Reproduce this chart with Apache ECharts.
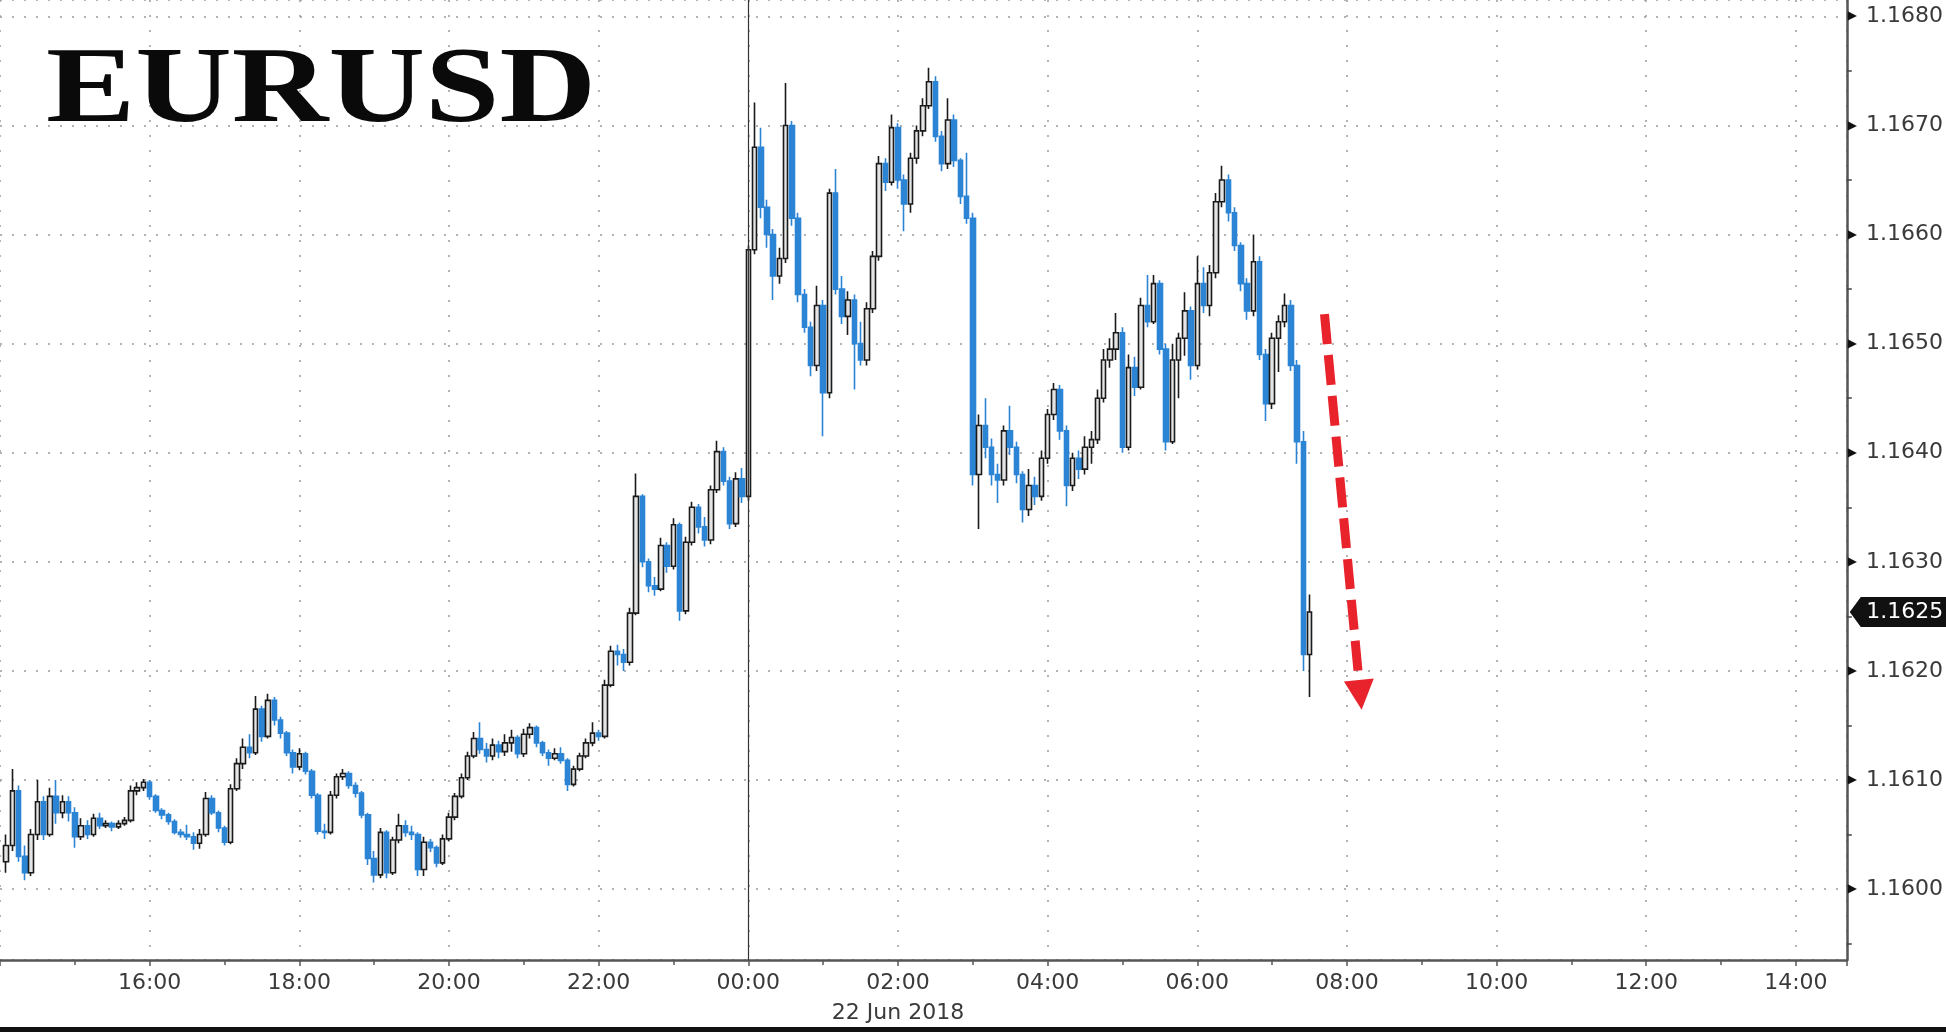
<!DOCTYPE html>
<html><head><meta charset="utf-8">
<script src="https://cdn.jsdelivr.net/npm/echarts@6/dist/echarts.min.js"></script>
<style>html,body{margin:0;padding:0;background:#fff;overflow:hidden}#c{width:1946px;height:1032px}</style>
</head><body><div id="c"></div>
<script>
const title = 'EURUSD';
const dateLabel = '22 Jun 2018';
const dateLabelAt = 26; // 02:00 on 22 Jun (hours from 21 Jun 00:00)

const times = [
'14:05','14:10','14:15','14:20','14:25','14:30','14:35','14:40','14:45','14:50','14:55',
'15:00','15:05','15:10','15:15','15:20','15:25','15:30','15:35','15:40','15:45','15:50','15:55',
'16:00','16:05','16:10','16:15','16:20','16:25','16:30','16:35','16:40','16:45','16:50','16:55',
'17:00','17:05','17:10','17:15','17:20','17:25','17:30','17:35','17:40','17:45','17:50','17:55',
'18:00','18:05','18:10','18:15','18:20','18:25','18:30','18:35','18:40','18:45','18:50','18:55',
'19:00','19:05','19:10','19:15','19:20','19:25','19:30','19:35','19:40','19:45','19:50','19:55',
'20:00','20:05','20:10','20:15','20:20','20:25','20:30','20:35','20:40','20:45','20:50','20:55',
'21:00','21:05','21:10','21:15','21:20','21:25','21:30','21:35','21:40','21:45','21:50','21:55',
'22:00','22:05','22:10','22:15','22:20','22:25','22:30','22:35','22:40','22:45','22:50','22:55',
'23:00','23:05','23:10','23:15','23:20','23:25','23:30','23:35','23:40','23:45','23:50','23:55',
'00:00','00:05','00:10','00:15','00:20','00:25','00:30','00:35','00:40','00:45','00:50','00:55',
'01:00','01:05','01:10','01:15','01:20','01:25','01:30','01:35','01:40','01:45','01:50','01:55',
'02:00','02:05','02:10','02:15','02:20','02:25','02:30','02:35','02:40','02:45','02:50','02:55',
'03:00','03:05','03:10','03:15','03:20','03:25','03:30','03:35','03:40','03:45','03:50','03:55',
'04:00','04:05','04:10','04:15','04:20','04:25','04:30','04:35','04:40','04:45','04:50','04:55',
'05:00','05:05','05:10','05:15','05:20','05:25','05:30','05:35','05:40','05:45','05:50','05:55',
'06:00','06:05','06:10','06:15','06:20','06:25','06:30','06:35','06:40','06:45','06:50','06:55',
'07:00','07:05','07:10','07:15','07:20','07:25','07:30'
];

const opens = [
1.16025,1.16040,1.16090,1.16030,1.16015,1.16050,1.16080,1.16050,1.16085,1.16070,1.16080,
1.16070,1.16048,1.16058,1.16050,1.16065,1.16058,1.16060,1.16057,1.16060,1.16063,1.16090,1.16093,
1.16098,1.16085,1.16072,1.16068,1.16062,1.16052,1.16050,1.16048,1.16042,1.16050,1.16083,1.16070,
1.16056,1.16043,1.16092,1.16115,1.16130,1.16125,1.16165,1.16140,1.16173,1.16155,1.16143,1.16125,
1.16112,1.16124,1.16108,1.16086,1.16053,1.16052,1.16086,1.16103,1.16106,1.16095,1.16088,1.16068,
1.16028,1.16013,1.16052,1.16015,1.16045,1.16058,1.16052,1.16050,1.16018,1.16043,1.16038,1.16024,
1.16046,1.16066,1.16085,1.16102,1.16122,1.16138,1.16128,1.16122,1.16132,1.16126,1.16134,1.16139,
1.16124,1.16142,1.16148,1.16134,1.16125,1.16120,1.16124,1.16118,1.16096,1.16110,1.16122,1.16134,
1.16143,1.16140,1.16187,1.16218,1.16215,1.16208,1.16253,1.16360,1.16300,1.16278,1.16275,1.16315,
1.16296,1.16334,1.16255,1.16318,1.16350,1.16332,1.16320,1.16366,1.16401,1.16374,1.16335,1.16376,
1.16360,1.16586,1.16680,1.16625,1.16600,1.16562,1.16578,1.16700,1.16615,1.16545,1.16515,1.16480,
1.16535,1.16455,1.16638,1.16550,1.16525,1.16540,1.16500,1.16485,1.16532,1.16580,1.16665,1.16648,
1.16698,1.16650,1.16628,1.16670,1.16695,1.16718,1.16740,1.16690,1.16665,1.16705,1.16668,1.16635,
1.16615,1.16380,1.16425,1.16405,1.16380,1.16375,1.16420,1.16405,1.16380,1.16348,1.16370,1.16360,
1.16395,1.16435,1.16458,1.16420,1.16370,1.16395,1.16385,1.16405,1.16412,1.16450,1.16485,1.16495,
1.16510,1.16405,1.16478,1.16460,1.16535,1.16520,1.16555,1.16495,1.16410,1.16485,1.16505,1.16530,
1.16480,1.16555,1.16535,1.16565,1.16630,1.16650,1.16620,1.16590,1.16555,1.16530,1.16575,1.16490,
1.16445,1.16505,1.16520,1.16535,1.16480,1.16410,1.16215
];

const closes = [
1.16040,1.16090,1.16030,1.16015,1.16050,1.16080,1.16050,1.16085,1.16070,1.16080,1.16070,
1.16048,1.16058,1.16050,1.16065,1.16058,1.16060,1.16057,1.16060,1.16063,1.16090,1.16093,1.16098,
1.16085,1.16072,1.16068,1.16062,1.16052,1.16050,1.16048,1.16042,1.16050,1.16083,1.16070,1.16056,
1.16043,1.16092,1.16115,1.16130,1.16125,1.16165,1.16140,1.16173,1.16155,1.16143,1.16125,1.16112,
1.16124,1.16108,1.16086,1.16053,1.16052,1.16086,1.16103,1.16106,1.16095,1.16088,1.16068,1.16028,
1.16013,1.16052,1.16015,1.16045,1.16058,1.16052,1.16050,1.16018,1.16043,1.16038,1.16024,1.16046,
1.16066,1.16085,1.16102,1.16122,1.16138,1.16128,1.16122,1.16132,1.16126,1.16134,1.16139,1.16124,
1.16142,1.16148,1.16134,1.16125,1.16120,1.16124,1.16118,1.16096,1.16110,1.16122,1.16134,1.16143,
1.16140,1.16187,1.16218,1.16215,1.16208,1.16253,1.16360,1.16300,1.16278,1.16275,1.16315,1.16296,
1.16334,1.16255,1.16318,1.16350,1.16332,1.16320,1.16366,1.16401,1.16374,1.16335,1.16376,1.16360,
1.16586,1.16680,1.16625,1.16600,1.16562,1.16578,1.16700,1.16615,1.16545,1.16515,1.16480,1.16535,
1.16455,1.16638,1.16550,1.16525,1.16540,1.16500,1.16485,1.16532,1.16580,1.16665,1.16648,1.16698,
1.16650,1.16628,1.16670,1.16695,1.16718,1.16740,1.16690,1.16665,1.16705,1.16668,1.16635,1.16615,
1.16380,1.16425,1.16405,1.16380,1.16375,1.16420,1.16405,1.16380,1.16348,1.16370,1.16360,1.16395,
1.16435,1.16458,1.16420,1.16370,1.16395,1.16385,1.16405,1.16412,1.16450,1.16485,1.16495,1.16510,
1.16405,1.16478,1.16460,1.16535,1.16520,1.16555,1.16495,1.16410,1.16485,1.16505,1.16530,1.16480,
1.16555,1.16535,1.16565,1.16630,1.16650,1.16620,1.16590,1.16555,1.16530,1.16575,1.16490,1.16445,
1.16505,1.16520,1.16535,1.16480,1.16410,1.16215,1.16254
];

const lows = [
1.16015,1.16035,1.16025,1.16008,1.16012,1.16045,1.16045,1.16048,1.16060,1.16065,1.16062,
1.16038,1.16045,1.16046,1.16048,1.16055,1.16056,1.16053,1.16055,1.16058,1.16061,1.16086,1.16090,
1.16082,1.16070,1.16064,1.16059,1.16050,1.16047,1.16045,1.16036,1.16037,1.16048,1.16068,1.16052,
1.16040,1.16041,1.16090,1.16110,1.16120,1.16123,1.16135,1.16138,1.16150,1.16138,1.16122,1.16106,
1.16109,1.16105,1.16083,1.16050,1.16046,1.16050,1.16083,1.16100,1.16092,1.16084,1.16065,1.16022,
1.16006,1.16010,1.16010,1.16013,1.16042,1.16048,1.16045,1.16012,1.16012,1.16034,1.16020,1.16022,
1.16044,1.16063,1.16083,1.16100,1.16120,1.16124,1.16116,1.16118,1.16120,1.16122,1.16126,1.16120,
1.16121,1.16138,1.16130,1.16122,1.16113,1.16118,1.16115,1.16090,1.16094,1.16108,1.16120,1.16131,
1.16136,1.16138,1.16185,1.16205,1.16200,1.16205,1.16251,1.16295,1.16272,1.16269,1.16273,1.16290,
1.16293,1.16246,1.16252,1.16315,1.16326,1.16314,1.16316,1.16363,1.16370,1.16330,1.16332,1.16354,
1.16356,1.16582,1.16615,1.16588,1.16540,1.16555,1.16574,1.16608,1.16538,1.16510,1.16470,1.16475,
1.16415,1.16450,1.16545,1.16518,1.16508,1.16458,1.16480,1.16480,1.16528,1.16576,1.16640,1.16645,
1.16642,1.16603,1.16620,1.16665,1.16690,1.16715,1.16685,1.16658,1.16660,1.16662,1.16628,1.16610,
1.16370,1.16330,1.16395,1.16370,1.16354,1.16370,1.16398,1.16372,1.16336,1.16342,1.16352,1.16356,
1.16390,1.16430,1.16412,1.16351,1.16365,1.16376,1.16380,1.16390,1.16408,1.16446,1.16478,1.16485,
1.16400,1.16402,1.16452,1.16458,1.16515,1.16518,1.16490,1.16402,1.16408,1.16450,1.16489,1.16467,
1.16476,1.16528,1.16525,1.16560,1.16625,1.16612,1.16585,1.16548,1.16522,1.16525,1.16485,1.16429,
1.16440,1.16474,1.16515,1.16475,1.16390,1.16200,1.16176
];

const highs = [
1.16050,1.16110,1.16095,1.16040,1.16055,1.16100,1.16085,1.16093,1.16100,1.16086,1.16085,
1.16075,1.16065,1.16063,1.16069,1.16070,1.16063,1.16062,1.16063,1.16066,1.16095,1.16098,1.16101,
1.16100,1.16087,1.16074,1.16070,1.16064,1.16055,1.16059,1.16052,1.16055,1.16089,1.16086,1.16072,
1.16058,1.16096,1.16120,1.16138,1.16142,1.16177,1.16168,1.16179,1.16176,1.16158,1.16145,1.16128,
1.16129,1.16126,1.16110,1.16088,1.16060,1.16090,1.16106,1.16110,1.16108,1.16098,1.16090,1.16070,
1.16035,1.16056,1.16054,1.16048,1.16069,1.16063,1.16058,1.16052,1.16048,1.16046,1.16040,1.16050,
1.16070,1.16088,1.16106,1.16126,1.16144,1.16153,1.16134,1.16138,1.16136,1.16142,1.16146,1.16141,
1.16147,1.16152,1.16150,1.16136,1.16128,1.16129,1.16130,1.16120,1.16113,1.16125,1.16138,1.16153,
1.16146,1.16192,1.16223,1.16224,1.16220,1.16258,1.16381,1.16362,1.16303,1.16286,1.16322,1.16318,
1.16340,1.16336,1.16323,1.16355,1.16353,1.16341,1.16370,1.16411,1.16405,1.16378,1.16382,1.16386,
1.16590,1.16721,1.16698,1.16632,1.16605,1.16588,1.16739,1.16704,1.16620,1.16550,1.16520,1.16553,
1.16540,1.16642,1.16660,1.16562,1.16548,1.16545,1.16520,1.16538,1.16585,1.16672,1.16670,1.16710,
1.16702,1.16655,1.16675,1.16700,1.16725,1.16753,1.16745,1.16695,1.16725,1.16710,1.16670,1.16675,
1.16620,1.16435,1.16450,1.16413,1.16390,1.16425,1.16443,1.16410,1.16383,1.16385,1.16378,1.16402,
1.16440,1.16464,1.16462,1.16425,1.16400,1.16402,1.16415,1.16420,1.16458,1.16495,1.16505,1.16528,
1.16515,1.16490,1.16488,1.16542,1.16563,1.16563,1.16558,1.16500,1.16500,1.16510,1.16547,1.16534,
1.16580,1.16570,1.16572,1.16638,1.16663,1.16655,1.16625,1.16593,1.16560,1.16600,1.16580,1.16495,
1.16510,1.16526,1.16546,1.16540,1.16485,1.16420,1.16270
];

// session separator and annotation arrow (hours from 21 Jun 00:00, price)
const sessionBreak = 24;
const arrowFrom = [31.70, 1.16527];
const arrowTo = [32.178, 1.16178];

// axis ranges
const xMin = 14, xMax = 38.68, xStep = 2;
const yMin = 1.15935, yMax = 1.16815, yStep = 0.001;

function toHours(t) {
  const h = parseInt(t.slice(0, 2), 10), m = parseInt(t.slice(3), 10);
  return h + m / 60 + (h < 14 ? 24 : 0);
}
const candles = times.map((t, i) => [toHours(t), opens[i], closes[i], lows[i], highs[i]]);
const lastClose = closes[closes.length - 1];

const FONT = 'DejaVu Sans';
const ctx = document.createElement('canvas').getContext('2d');
const titleFont = 'bold 109px "Liberation Serif", "DejaVu Serif", serif';
ctx.font = titleFont;
const titleW = ctx.measureText(title).width || 480;
const titleScale = 550 / titleW;

const chart = echarts.init(document.getElementById('c'), null, {renderer: 'canvas'});
chart.setOption({
  animation: false,
  backgroundColor: '#ffffff',
  textStyle: {fontFamily: FONT},
  grid: {left: -2, right: 95, top: 0, bottom: 72, containLabel: false},
  xAxis: {
    type: 'value', min: xMin, max: xMax, interval: xStep,
    axisLine: {show: true, lineStyle: {color: '#555', width: 2.5}},
    axisTick: {show: true, length: 6, lineStyle: {color: '#555', width: 1.5}},
    minorTick: {show: true, splitNumber: 2, length: 5, lineStyle: {color: '#555', width: 1.5}},
    axisLabel: {
      showMinLabel: false, showMaxLabel: false, margin: 8,
      fontSize: 22, lineHeight: 30, color: '#3a3a3a', fontFamily: FONT,
      formatter: function (v) {
        const h = ((Math.round(v) % 24) + 24) % 24;
        let s = (h < 10 ? '0' : '') + h + ':00';
        if (Math.round(v) === dateLabelAt) s += '\n' + dateLabel;
        return s;
      }
    },
    splitLine: {show: true, lineStyle: {type: [2, 13], color: '#9a9a9a', width: 1.5}}
  },
  yAxis: {
    type: 'value', position: 'right', min: yMin, max: yMax,
    splitNumber: 9, minInterval: yStep, maxInterval: yStep,
    axisLine: {show: true, lineStyle: {color: '#555', width: 2.5}},
    axisTick: {show: false},
    minorTick: {show: true, splitNumber: 2, length: 5, lineStyle: {color: '#444', width: 1.5}},
    splitLine: {show: true, lineStyle: {type: [2, 10], color: '#9a9a9a', width: 1.5}},
    axisLabel: {
      showMinLabel: false, showMaxLabel: false, margin: 1,
      formatter: function (v) { return '{t|\u25B6}{v|' + v.toFixed(4) + '}'; },
      rich: {
        t: {fontSize: 12, color: '#111', padding: [0, 9, 0, 0], fontFamily: FONT},
        v: {fontSize: 22, color: '#3a3a3a', fontFamily: FONT}
      }
    }
  },
  series: [{
    type: 'candlestick',
    data: candles,
    barWidth: 5,
    itemStyle: {
      color: '#e4e4e4', color0: '#2b84d4',
      borderColor: '#1a1a1a', borderColor0: '#2b84d4', borderWidth: 1.6
    },
    emphasis: {disabled: true},
    markLine: {
      silent: true, animation: false, symbol: 'none',
      label: {show: false},
      data: [
        {xAxis: sessionBreak, lineStyle: {type: 'solid', color: '#333', width: 1.2}},
        [
          {coord: arrowFrom, symbol: 'none', lineStyle: {type: [30, 11], color: '#e8232b', width: 9, cap: 'butt'}},
          {coord: arrowTo, symbol: 'triangle', symbolSize: 30, lineStyle: {type: [30, 11], color: '#e8232b', width: 9, cap: 'butt'}}
        ]
      ]
    },
    markPoint: {
      silent: true, animation: false,
      data: [{
        coord: [xMax, lastClose],
        symbol: 'path://M0,15L11,0L100,0L100,30L11,30Z',
        symbolSize: [100, 30], symbolKeepAspect: false, symbolOffset: [53, 0],
        itemStyle: {color: '#111'},
        label: {
          show: true, position: 'inside', color: '#fff', fontSize: 22, fontFamily: FONT,
          offset: [5, 0], formatter: function () { return lastClose.toFixed(4); }
        }
      }]
    }
  }],
  graphic: [
    {type: 'text', x: 46, y: 93, scaleX: titleScale, scaleY: 1, z: 100,
     style: {text: title, font: titleFont, fill: '#0a0a0a', align: 'left', verticalAlign: 'middle',
             textAlign: 'left', textVerticalAlign: 'middle'}},
    {type: 'rect', shape: {x: 0, y: 1027, width: 1946, height: 5}, style: {fill: '#111'}, z: 100}
  ]
});
</script>
</body></html>
